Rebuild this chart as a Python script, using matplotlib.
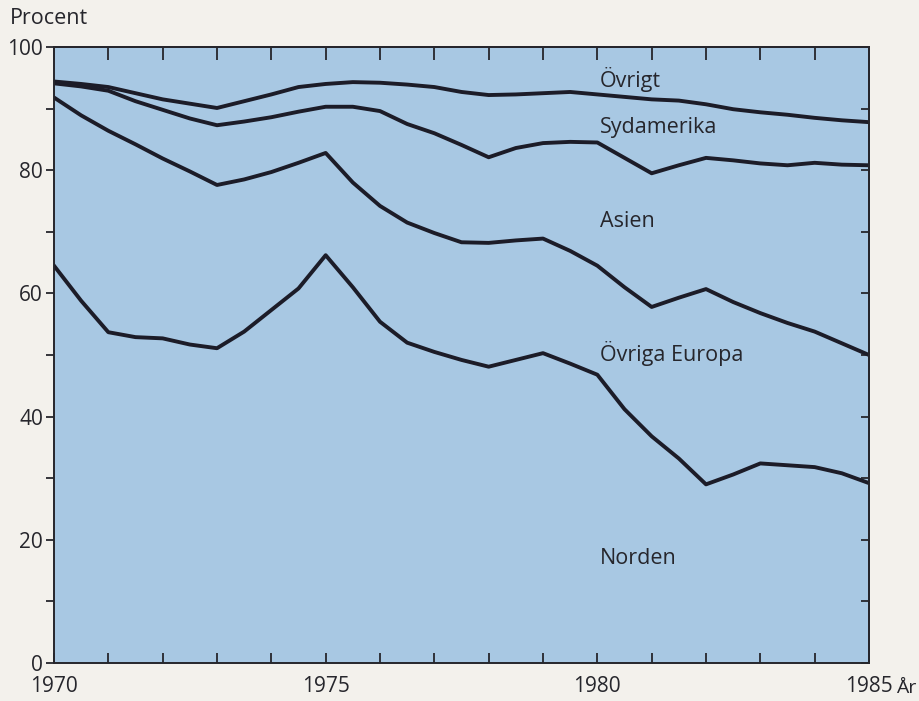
import matplotlib.pyplot as plt
import numpy as np

# Halvårsvärden 1970-1985 (kumulativ andel, procent)
years = np.arange(1970, 1985.01, 0.5)

norden = [64.5, 58.8, 53.7, 52.9, 52.7, 51.7, 51.1, 53.8, 57.3, 60.8,
          66.2, 61.0, 55.4, 52.0, 50.5, 49.2, 48.1, 49.2, 50.3, 48.6,
          46.8, 41.2, 36.8, 33.2, 29.0, 30.6, 32.4, 32.1, 31.8, 30.8, 29.2]
ovriga_europa = [91.8, 88.9, 86.4, 84.2, 81.9, 79.8, 77.6, 78.5, 79.7, 81.2,
                 82.8, 78.0, 74.2, 71.5, 69.8, 68.3, 68.2, 68.6, 68.9, 66.9,
                 64.5, 61.0, 57.8, 59.3, 60.7, 58.6, 56.8, 55.2, 53.8, 51.9, 50.0]
asien = [94.1, 93.6, 92.9, 91.2, 89.8, 88.4, 87.3, 87.9, 88.6, 89.5,
         90.3, 90.3, 89.6, 87.5, 86.0, 84.1, 82.1, 83.6, 84.4, 84.6,
         84.5, 82.0, 79.5, 80.8, 82.0, 81.6, 81.1, 80.8, 81.2, 80.9, 80.8]
sydamerika = [94.4, 94.0, 93.5, 92.5, 91.5, 90.8, 90.1, 91.2, 92.3, 93.5,
              94.0, 94.3, 94.2, 93.9, 93.5, 92.7, 92.2, 92.3, 92.5, 92.7,
              92.3, 91.9, 91.5, 91.3, 90.7, 89.9, 89.4, 89.0, 88.5, 88.1, 87.8]

labels = ["Övrigt", "Sydamerika", "Asien", "Övriga Europa", "Norden"]
label_y = [94.7, 87.0, 71.6, 50.2, 17.0]

bg = '#f3f1ec'
blue = '#a8c8e3'
ink = '#1c1c28'
txt_col = '#26262c'

plt.rcParams['font.family'] = ['Open Sans', 'DejaVu Sans']

fig = plt.figure(figsize=(9.2, 7.01), dpi=100, facecolor=bg)
ax = fig.add_axes([54/920, 38/701, 815/920, 616/701])
ax.set_facecolor(blue)

for serie in (norden, ovriga_europa, asien, sydamerika):
    ax.plot(years, serie, color=ink, linewidth=2.8, solid_joinstyle='round')

for txt, yv in zip(labels, label_y):
    ax.text(1980.05, yv, txt, fontsize=15.5, color=txt_col, va='center', ha='left')

ax.set_xlim(1970, 1985)
ax.set_ylim(0, 100)

# y-axel: streck var 10:e, etikett var 20:e
ax.set_yticks(range(0, 101, 10))
ax.set_yticklabels([str(v) if v % 20 == 0 else '' for v in range(0, 101, 10)])
ax.set_xticks(range(1970, 1986))
ax.set_xticklabels([str(v) if v % 5 == 0 else '' for v in range(1970, 1986)])

ax.tick_params(axis='y', direction='out', length=6, width=1.3, labelsize=15,
               colors=txt_col, pad=2)
ax.tick_params(axis='x', direction='in', length=7, width=1.3, labelsize=15,
               colors=txt_col, pad=9)

sec_y = ax.secondary_yaxis('right')
sec_y.set_yticks(range(0, 101, 10))
sec_y.set_yticklabels([])
sec_y.tick_params(direction='in', length=6, width=1.3, color=txt_col)

sec_x = ax.secondary_xaxis('top')
sec_x.set_xticks(range(1970, 1986))
sec_x.set_xticklabels([])
sec_x.tick_params(direction='in', length=9, width=1.3, color=txt_col)

for sp in list(ax.spines.values()) + [sec_y.spines['right'], sec_x.spines['top']]:
    sp.set_linewidth(1.4)
    sp.set_color(txt_col)

fig.text(10/920, 1 - 19/701, "Procent", fontsize=15.5, color=txt_col, va='center', ha='left')
fig.text(896/920, 1 - 688/701, "År", fontsize=14, color=txt_col, va='center', ha='left')

fig.savefig('out.png', dpi=100, facecolor=bg)
